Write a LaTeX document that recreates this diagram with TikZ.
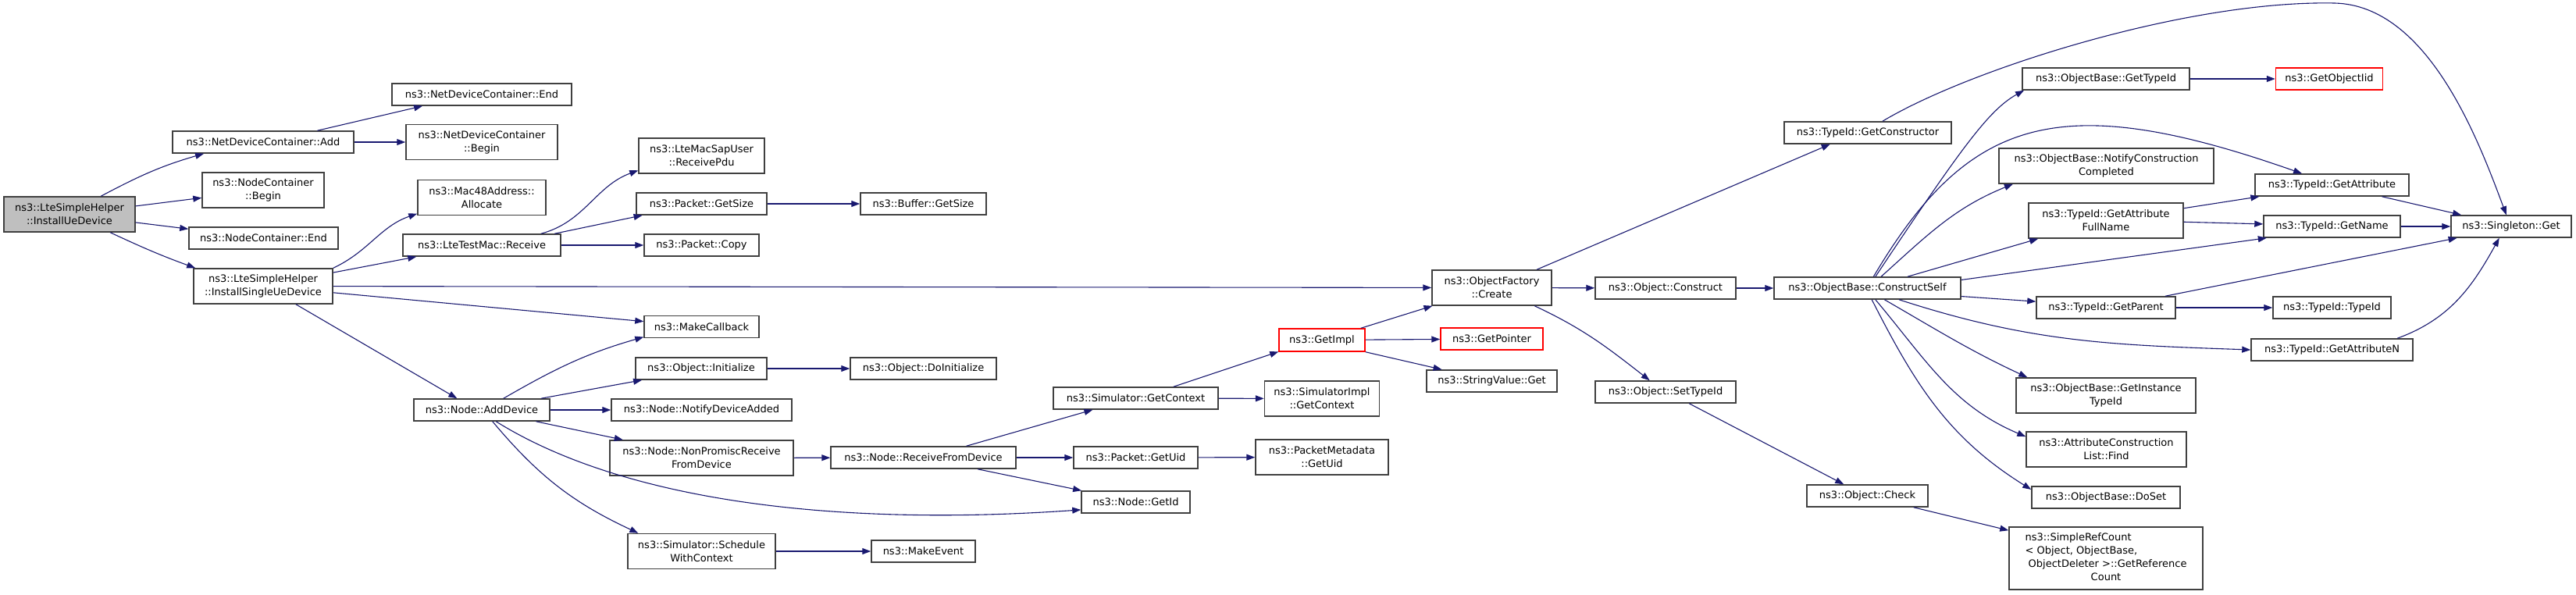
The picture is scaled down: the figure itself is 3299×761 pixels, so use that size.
\documentclass[tikz,border=0pt]{standalone}
\usepackage{fontspec}
\setmainfont{DejaVu Sans}
\usepackage{tikz}
\usetikzlibrary{arrows.meta}
\definecolor{edgeblue}{HTML}{191970}
\definecolor{boxline}{HTML}{404040}
\definecolor{rootfill}{HTML}{BFBFBF}

\begin{document}
\begin{tikzpicture}[x=1pt, y=-1pt,
    fn/.style={rectangle, draw=boxline, line width=1.5pt, fill=white,
        font=\fontsize{13}{17}\selectfont, inner xsep=4pt, inner ysep=3pt, minimum height=28pt},
    fn2/.style={fn, align=center, minimum height=45pt},
    rootfn/.style={fn2, fill=rootfill},
    nodoc/.style={fn, draw=red},
    call/.style={draw=edgeblue, line width=1.1pt, -{Triangle[length=11pt, width=8pt]}}]
    \useasboundingbox (0,0) rectangle (3299,761);

    \node[rootfn, minimum width=168pt] (root) at (89,274.5) {ns3::LteSimpleHelper\\::InstallUeDevice};

    \node[fn, minimum width=232pt] (ndcadd) at (337,182) {ns3::NetDeviceContainer::Add};
    \node[fn2, minimum width=156pt] (ncbegin) at (337,243.5) {ns3::NodeContainer\\::Begin};
    \node[fn, minimum width=191pt] (ncend) at (337.5,305) {ns3::NodeContainer::End};
    \node[fn2, minimum width=178pt] (isud) at (337,366.5) {ns3::LteSimpleHelper\\::InstallSingleUeDevice};

    \node[fn, minimum width=230pt] (ndcend) at (617,121) {ns3::NetDeviceContainer::End};
    \node[fn2, minimum width=194pt] (ndcbegin) at (617,182) {ns3::NetDeviceContainer\\::Begin};
    \node[fn2, minimum width=164pt] (allocate) at (617,253) {ns3::Mac48Address::\\Allocate};
    \node[fn, minimum width=202pt] (receive) at (617,314) {ns3::LteTestMac::Receive};
    \node[fn, minimum width=174pt] (adddevice) at (617,525) {ns3::Node::AddDevice};

    \node[fn2, minimum width=161pt] (receivepdu) at (898.5,199.5) {ns3::LteMacSapUser\\::ReceivePdu};
    \node[fn, minimum width=167pt] (pktgetsize) at (898.5,261) {ns3::Packet::GetSize};
    \node[fn, minimum width=147pt] (pktcopy) at (898.5,314) {ns3::Packet::Copy};
    \node[fn, minimum width=147pt] (makecallback) at (898.5,418.5) {ns3::MakeCallback};
    \node[fn, minimum width=168pt] (initialize) at (898,472) {ns3::Object::Initialize};
    \node[fn, minimum width=231pt] (notifyadded) at (898.5,525) {ns3::Node::NotifyDeviceAdded};
    \node[fn2, minimum width=235pt] (nonpromisc) at (898.5,586.5) {ns3::Node::NonPromiscReceive\\FromDevice};
    \node[fn2, minimum width=189pt] (schedule) at (898.5,706) {ns3::Simulator::Schedule\\WithContext};

    \node[fn, minimum width=161pt] (bufgetsize) at (1182.5,261) {ns3::Buffer::GetSize};
    \node[fn, minimum width=187pt] (doinit) at (1182.5,472) {ns3::Object::DoInitialize};
    \node[fn, minimum width=237pt] (rxfromdev) at (1182.5,586) {ns3::Node::ReceiveFromDevice};
    \node[fn, minimum width=133pt] (makeevent) at (1182.5,706) {ns3::MakeEvent};

    \node[fn, minimum width=211pt] (simgetctx) at (1454.5,510) {ns3::Simulator::GetContext};
    \node[fn, minimum width=159pt] (pktgetuid) at (1454.5,586) {ns3::Packet::GetUid};
    \node[fn, minimum width=139pt] (nodegetid) at (1454.5,643) {ns3::Node::GetId};

    \node[nodoc, minimum width=110pt, minimum height=29pt] (getimpl) at (1693,435.5) {ns3::GetImpl};
    \node[fn2, minimum width=147pt] (implgetctx) at (1693,510.5) {ns3::SimulatorImpl\\::GetContext};
    \node[fn2, minimum width=170pt] (metagetuid) at (1693,585.5) {ns3::PacketMetadata\\::GetUid};

    \node[fn2, minimum width=153pt] (create) at (1910.5,368.5) {ns3::ObjectFactory\\::Create};
    \node[nodoc, minimum width=131pt] (getpointer) at (1910.5,434) {ns3::GetPointer};
    \node[fn, minimum width=167pt] (strget) at (1910.5,488) {ns3::StringValue::Get};

    \node[fn, minimum width=180pt] (construct) at (2133,369) {ns3::Object::Construct};
    \node[fn, minimum width=180pt] (settypeid) at (2133,502) {ns3::Object::SetTypeId};

    \node[fn, minimum width=214pt] (getctor) at (2392,170) {ns3::TypeId::GetConstructor};
    \node[fn, minimum width=239pt] (constructself) at (2391.5,369) {ns3::ObjectBase::ConstructSelf};
    \node[fn, minimum width=155pt] (check) at (2391.5,635) {ns3::Object::Check};

    \node[fn, minimum width=214pt] (obgettypeid) at (2697,101) {ns3::ObjectBase::GetTypeId};
    \node[fn2, minimum width=275pt] (notifycc) at (2697.5,212.5) {ns3::ObjectBase::NotifyConstruction\\Completed};
    \node[fn2, minimum width=198pt] (attrfullname) at (2697,282.5) {ns3::TypeId::GetAttribute\\FullName};
    \node[fn, minimum width=178pt] (getparent) at (2697,394) {ns3::TypeId::GetParent};
    \node[fn2, minimum width=230pt] (instancetypeid) at (2697,506.5) {ns3::ObjectBase::GetInstance\\TypeId};
    \node[fn2, minimum width=205pt] (find) at (2697.5,575.5) {ns3::AttributeConstruction\\List::Find};
    \node[fn, minimum width=190pt] (doset) at (2697,637) {ns3::ObjectBase::DoSet};
    \node[fn, minimum width=248pt, minimum height=80pt] (simplerefcount) at (2697,715)
        {\begin{tabular}{@{}l@{}}ns3::SimpleRefCount\\< Object, ObjectBase,\\\ ObjectDeleter >::GetReference\\\multicolumn{1}{@{}c@{}}{Count}\end{tabular}};

    \node[nodoc, minimum width=137pt] (getobjectiid) at (2983,101) {ns3::GetObjectIid};
    \node[fn, minimum width=197pt] (getattribute) at (2986.5,237) {ns3::TypeId::GetAttribute};
    \node[fn, minimum width=175pt] (getname) at (2986.5,290) {ns3::TypeId::GetName};
    \node[fn, minimum width=151pt] (typeidctor) at (2986.5,394) {ns3::TypeId::TypeId};
    \node[fn, minimum width=207pt] (getattributen) at (2986.5,448) {ns3::TypeId::GetAttributeN};

    \node[fn, minimum width=154pt] (singletonget) at (3216,290) {ns3::Singleton::Get};

    \coordinate (ctortop) at (2990,4);

    \draw[call] (root.30) to[out=28,in=196] (ndcadd.191);
    \draw[call] (root) -- (ncbegin);
    \draw[call] (root) -- (ncend);
    \draw[call] (root.-24) to[out=-25,in=160] (isud.165);
    \draw[call] (ndcadd.12) -- (ndcend.191);
    \draw[call] (ndcadd) -- (ndcbegin);
    \draw[call] (isud.north east) to[out=25,in=199] (allocate.194);
    \draw[call] (isud.11) -- (receive.190);
    \draw[call] (isud) -- (create);
    \draw[call] (isud) -- (makecallback);
    \draw[call] (isud.-29) -- (adddevice.155);
    \draw[call] (receive.11) to[out=15,in=200] (receivepdu.193);
    \draw[call] (receive.9) -- (pktgetsize.191);
    \draw[call] (receive) -- (pktcopy);
    \draw[call] (pktgetsize) -- (bufgetsize);
    \draw[call] (adddevice.28) to[out=30,in=196] (makecallback.190);
    \draw[call] (adddevice.11) -- (initialize.191);
    \draw[call] (adddevice) -- (notifyadded);
    \draw[call] (adddevice.-12) -- (nonpromisc.167);
    \draw[call] (adddevice.-39) .. controls +(170,106) and +(-299,21) .. (nodegetid.188);
    \draw[call] (adddevice.-47) to[out=-50,in=155] (schedule.164);
    \draw[call] (initialize) -- (doinit);
    \draw[call] (nonpromisc) -- (rxfromdev);
    \draw[call] (schedule) -- (makeevent);
    \draw[call] (rxfromdev.15) -- (simgetctx.195);
    \draw[call] (rxfromdev) -- (pktgetuid);
    \draw[call] (rxfromdev.-12) -- (nodegetid.168);
    \draw[call] (simgetctx.17) -- (getimpl.195);
    \draw[call] (simgetctx) -- (implgetctx);
    \draw[call] (pktgetuid) -- (metagetuid);
    \draw[call] (getimpl.17) -- (create.197);
    \draw[call] (getimpl) -- (getpointer);
    \draw[call] (getimpl.south east) -- (strget.167);
    \draw[call] (create.22) -- (getctor.197);
    \draw[call] (create) -- (construct);
    \draw[call] (create.-23) to[out=-25,in=142] (settypeid.144);
    \draw[call] (construct) -- (constructself);
    \draw[call] (settypeid.-26) -- (check.154);
    \draw[call] (check.-14) -- (simplerefcount.164);
    \draw[call] (getctor.38) .. controls +(110,-66) and +(-190,-4) .. (ctortop)
        .. controls +(120,3) and +(-35,-94) .. (singletonget.113);
    \draw[call] (constructself.55) .. controls +(110,-165) and +(-45,25) .. (obgettypeid.188);
    \draw[call] (constructself.62) .. controls +(122,-206) and +(-310,-109) .. (getattribute.159);
    \draw[call] (constructself.40) to[out=42,in=202] (notifycc.191);
    \draw[call] (constructself.16) -- (attrfullname.195);
    \draw[call] (constructself.5) -- (getname.190);
    \draw[call] (constructself.-5) -- (getparent.175);
    \draw[call] (constructself.-20) to[out=-18,in=178] (getattributen.180);
    \draw[call] (constructself.-34) to[out=-30,in=155] (instancetypeid.167);
    \draw[call] (constructself.-55) to[out=-50,in=157] (find.171);
    \draw[call] (constructself.-69) to[out=-63,in=148] (doset.174);
    \draw[call] (obgettypeid) -- (getobjectiid);
    \draw[call] (attrfullname.9) -- (getattribute.189);
    \draw[call] (attrfullname.-1) -- (getname.178);
    \draw[call] (getattribute.-13) -- (singletonget.167);
    \draw[call] (getname) -- (singletonget);
    \draw[call] (getparent) -- (typeidctor);
    \draw[call] (getparent.11) -- (singletonget.192);
    \draw[call] (getattributen.10) to[out=20,in=241] (singletonget.224);
\end{tikzpicture}
\end{document}
